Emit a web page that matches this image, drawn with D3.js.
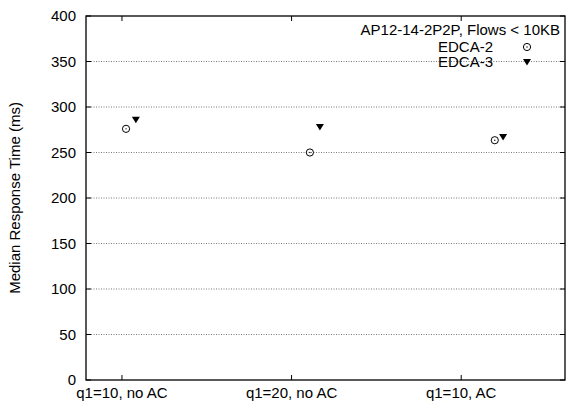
<!DOCTYPE html>
<html>
<head>
<meta charset="utf-8">
<script src="https://cdn.jsdelivr.net/npm/d3@7"></script>
<style>
  body { margin: 0; background: #fff; }
  text { font-family: "Liberation Sans", Arial, sans-serif; font-size: 15px; fill: #000; }
</style>
</head>
<body>
<svg id="chart" width="568" height="405"></svg>
<script>
// categories on the x axis (positions 1, 2, 3)
const categories = ["q1=10, no AC", "q1=20, no AC", "q1=10, AC"];
const yTicks = [0, 50, 100, 150, 200, 250, 300, 350, 400];

// each series is drawn a little to the right of its category
const edca2X = [1.024, 2.108, 3.198];
const edca2 = [276, 250, 263.5];
const edca3X = [1.082, 2.167, 3.247];
const edca3 = [286, 278, 267];

const title = "AP12-14-2P2P, Flows < 10KB";
const seriesNames = ["EDCA-2", "EDCA-3"];

const margin = {left: 86, right: 3, top: 16, bottom: 25};
const W = 568, H = 405;

const svg = d3.select("#chart");

const x = d3.scaleLinear().domain([0.788, 3.612]).range([margin.left, W - margin.right]);
const y = d3.scaleLinear().domain([0, 400]).range([H - margin.bottom, margin.top]);

const x0 = margin.left, x1 = W - margin.right, y0 = y(0), y1 = y(400);

// dotted grid lines
svg.append("g")
    .selectAll("line")
    .data(yTicks.filter(d => d > 0 && d < 400))
    .join("line")
    .attr("x1", x0).attr("x2", x1)
    .attr("y1", d => y(d)).attr("y2", d => y(d))
    .attr("stroke", "#555")
    .attr("stroke-width", 0.8)
    .attr("stroke-dasharray", "1,1.5");

// y ticks on both sides
const yt = svg.append("g");
yTicks.forEach(d => {
    yt.append("line").attr("x1", x0).attr("x2", x0 + 5).attr("y1", y(d)).attr("y2", y(d)).attr("stroke", "#000");
    yt.append("line").attr("x1", x1).attr("x2", x1 - 5).attr("y1", y(d)).attr("y2", y(d)).attr("stroke", "#000");
});

// y axis labels
svg.append("g")
    .selectAll("text")
    .data(yTicks)
    .join("text")
    .attr("x", x0 - 10)
    .attr("y", d => y(d) + 5)
    .attr("text-anchor", "end")
    .text(d => d);

// x ticks top and bottom
const xt = svg.append("g");
categories.forEach((c, i) => {
    xt.append("line").attr("x1", x(i + 1)).attr("x2", x(i + 1)).attr("y1", y0).attr("y2", y0 - 5).attr("stroke", "#000");
    xt.append("line").attr("x1", x(i + 1)).attr("x2", x(i + 1)).attr("y1", y1).attr("y2", y1 + 5).attr("stroke", "#000");
});

svg.append("g")
    .selectAll("text")
    .data(categories)
    .join("text")
    .attr("x", (d, i) => x(i + 1))
    .attr("y", y0 + 18)
    .attr("text-anchor", "middle")
    .text(d => d);

// frame
svg.append("rect")
    .attr("x", x0).attr("y", y1)
    .attr("width", x1 - x0).attr("height", y0 - y1)
    .attr("fill", "none")
    .attr("stroke", "#000")
    .attr("stroke-width", 1.3);

// y axis title
svg.append("text")
    .attr("transform", `translate(20,${(y0 + y1) / 2}) rotate(-90)`)
    .attr("text-anchor", "middle")
    .text("Median Response Time (ms)");

// markers
function circleMark(g, cx, cy) {
    g.append("circle").attr("cx", cx).attr("cy", cy).attr("r", 3.6)
        .attr("fill", "none").attr("stroke", "#000").attr("stroke-width", 1);
    g.append("circle").attr("cx", cx).attr("cy", cy).attr("r", 0.7).attr("fill", "#000");
}
function triMark(g, cx, cy) {
    g.append("path")
        .attr("d", `M${cx - 4},${cy - 3}L${cx + 4},${cy - 3}L${cx},${cy + 3.5}Z`)
        .attr("fill", "#000");
}

const pts = svg.append("g");
edca2.forEach((v, i) => circleMark(pts, x(edca2X[i]), y(v)));
edca3.forEach((v, i) => triMark(pts, x(edca3X[i]), y(v)));

// legend
const lg = svg.append("g");
lg.append("text").attr("x", 560).attr("y", 35).attr("text-anchor", "end").text(title);
seriesNames.forEach((s, i) => {
    const ly = 47 + i * 15;
    lg.append("text").attr("x", 493).attr("y", ly + 5).attr("text-anchor", "end").text(s);
    if (i === 0) circleMark(lg, 527, ly);
    else triMark(lg, 527, ly);
});
</script>
</body>
</html>
